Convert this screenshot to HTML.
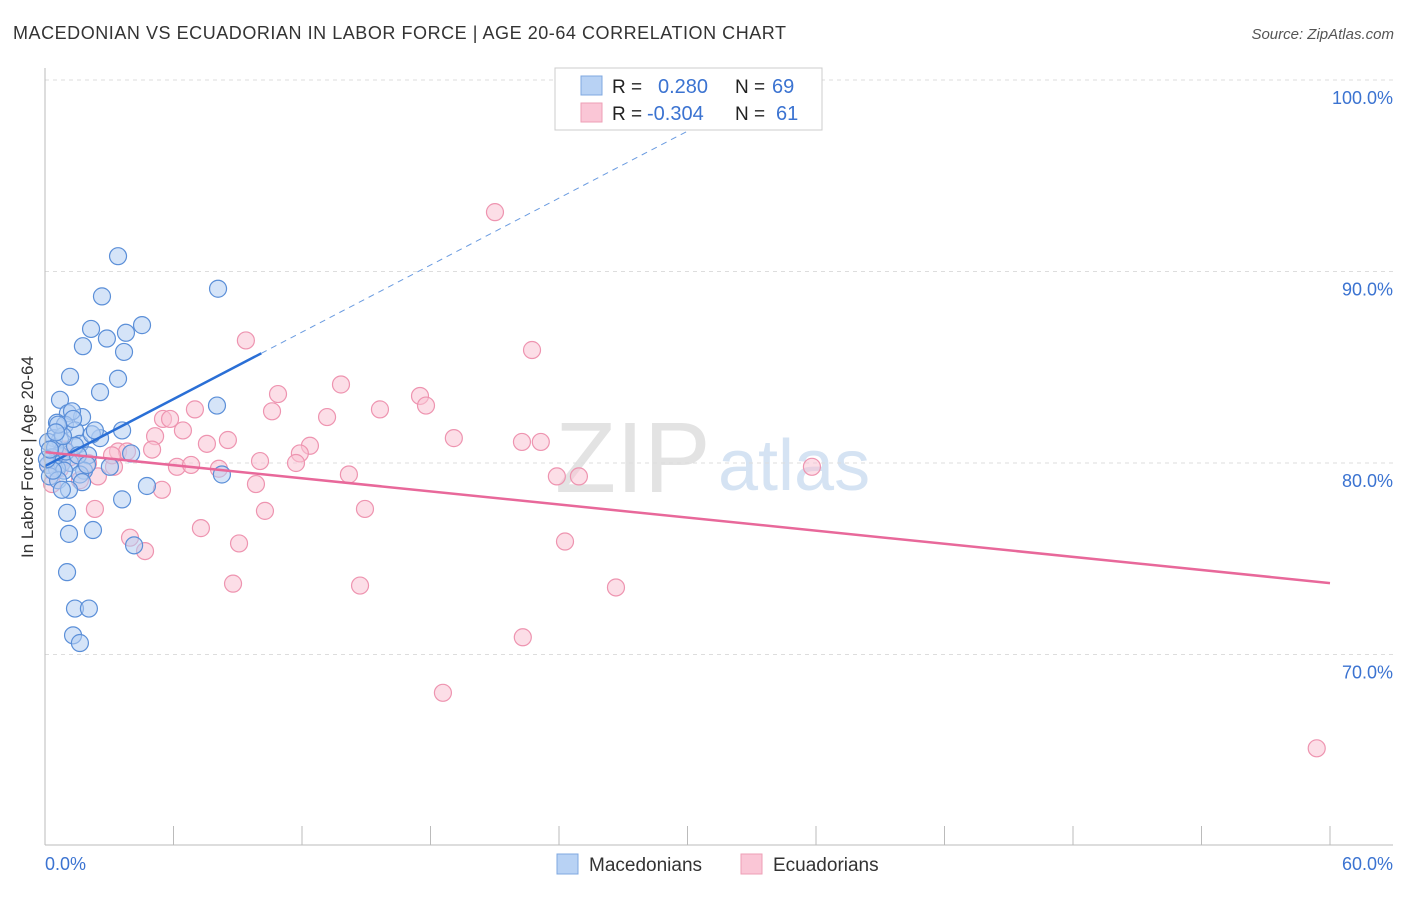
<!DOCTYPE html>
<html><head><meta charset="utf-8"><style>
body{margin:0;background:#fff;font-family:"Liberation Sans",sans-serif;}
svg text{font-family:"Liberation Sans",sans-serif;}
</style></head><body>
<svg id="chart" width="1406" height="892" viewBox="0 0 1406 892" xmlns="http://www.w3.org/2000/svg">
<text x="13" y="39" font-size="18" fill="#333" textLength="773">MACEDONIAN VS ECUADORIAN IN LABOR FORCE | AGE 20-64 CORRELATION CHART</text>
<text x="1394" y="39" font-size="15" fill="#555" text-anchor="end" font-style="italic">Source: ZipAtlas.com</text>
<text x="555" y="492" font-size="100" fill="#e3e3e3" font-family="Liberation Serif">ZIP</text>
<text x="718" y="490" font-size="72" fill="#d5e3f3">atlas</text>
<g id="grid"></g><g id="marks"></g>
<line x1="45" y1="68" x2="45" y2="845" stroke="#bbb"/>
<line x1="45" y1="845" x2="1393" y2="845" stroke="#bbb"/>
<text transform="translate(33,457) rotate(-90)" font-size="17" fill="#333" text-anchor="middle">In Labor Force | Age 20-64</text>
<text x="45" y="870" font-size="18" fill="#3b73d1">0.0%</text>
<text x="1393" y="870" font-size="18" fill="#3b73d1" text-anchor="end">60.0%</text>
<g>
<rect x="555" y="68" width="267" height="62" fill="#fff" stroke="#ccc"/>
<rect x="581" y="76" width="21" height="19" fill="#b8d2f4" stroke="#7fa8e0"/>
<rect x="581" y="103" width="21" height="19" fill="#fac6d6" stroke="#ee9fb6"/>
<text x="612" y="93" font-size="19" fill="#222">R =</text><text x="658" y="93" font-size="20" fill="#3b73d1">0.280</text>
<text x="735" y="93" font-size="19" fill="#222">N =</text><text x="772" y="93" font-size="20" fill="#3b73d1">69</text>
<text x="612" y="120" font-size="19" fill="#222">R =</text><text x="647" y="120" font-size="20" fill="#3b73d1">-0.304</text>
<text x="735" y="120" font-size="19" fill="#222">N =</text><text x="776" y="120" font-size="20" fill="#3b73d1">61</text>
</g>
<g>
<rect x="557" y="854" width="21" height="20" fill="#b8d2f4" stroke="#7fa8e0"/>
<text x="589" y="871" font-size="19" fill="#333">Macedonians</text>
<rect x="741" y="854" width="21" height="20" fill="#fac6d6" stroke="#ee9fb6"/>
<text x="773" y="871" font-size="19" fill="#333">Ecuadorians</text>
</g>
</svg>
<script>
const yTicks=[70,80,90,100];
const yTickLabels=["70.0%","80.0%","90.0%","100.0%"];
const xTicks=[6,12,18,24,30,36,42,48,54,60];
const macX=[3.41,8.08,2.66,2.15,4.53,3.78,2.89,1.77,3.69,1.17,3.41,2.57,0.70,8.03,1.07,1.73,1.26,0.56,0.93,1.40,2.57,3.60,0.42,0.70,1.63,0.14,4.02,0.70,0.33,2.01,0.14,0.79,1.17,0.56,1.82,1.63,0.89,0.23,8.26,3.03,0.61,1.73,1.12,4.76,3.60,1.03,2.24,1.12,4.16,1.03,1.40,2.05,1.31,1.63,0.47,0.98,1.40,2.19,0.37,0.09,0.84,1.31,2.33,0.61,1.54,1.96,0.23,0.79,0.51];
const macY=[90.8,89.1,88.7,87.0,87.2,86.8,86.5,86.1,85.8,84.5,84.4,83.7,83.3,83.0,82.6,82.4,82.7,82.1,82.0,81.7,81.3,81.7,81.3,81.2,81.0,81.1,80.5,80.4,80.3,80.4,79.9,80.0,80.0,79.7,79.6,79.4,79.6,79.3,79.4,79.8,79.1,79.0,78.6,78.8,78.1,77.4,76.5,76.3,75.7,74.3,72.4,72.4,71.0,70.6,80.8,80.6,80.9,81.5,79.6,80.2,81.4,82.3,81.7,82.0,80.4,79.9,80.7,78.6,81.6];
const ecuX=[21.01,9.38,22.74,10.88,13.82,17.51,17.79,15.64,10.60,7.00,13.17,5.51,5.84,6.44,5.14,8.54,7.56,19.09,22.27,23.15,12.37,11.90,3.41,3.83,5.00,10.04,11.72,6.16,6.82,8.12,3.22,35.81,14.19,23.90,24.93,2.47,9.85,5.46,14.94,10.27,2.33,7.28,3.97,9.06,24.28,4.67,8.78,14.71,26.66,22.31,18.58,59.38,0.33,0.70,1.17,1.63,0.93,0.14,3.13,2.01,0.61];
const ecuY=[93.1,86.4,85.9,83.6,84.1,83.5,83.0,82.8,82.7,82.8,82.4,82.3,82.3,81.7,81.4,81.2,81.0,81.3,81.1,81.1,80.9,80.5,80.6,80.6,80.7,80.1,80.0,79.8,79.9,79.7,79.8,79.8,79.4,79.3,79.3,79.3,78.9,78.6,77.6,77.5,77.6,76.6,76.1,75.8,75.9,75.4,73.7,73.6,73.5,70.9,68.0,65.1,78.9,79.7,80.3,79.1,80.7,79.9,80.4,80.0,80.4];
const X0=45,X1=1330,Y80=463,PPU=19.15;
const xs=v=>X0+v/60*(X1-X0), ys=v=>Y80-(v-80)*PPU;
const NS="http://www.w3.org/2000/svg";
const grid=document.getElementById('grid'), marks=document.getElementById('marks');
function mk(tag,attrs,parent){const e=document.createElementNS(NS,tag);for(const k in attrs)e.setAttribute(k,attrs[k]);parent.appendChild(e);return e;}
yTicks.forEach((t,i)=>{
 const l=mk('line',{x1:45,x2:1393,y1:ys(t),y2:ys(t),stroke:'#ddd','stroke-dasharray':'4,4'},grid);
 
 
 const tx=mk('text',{x:1393,y:ys(t)+24,'font-size':18,fill:'#3b73d1','text-anchor':'end'},grid);
 tx.textContent=yTickLabels[i];
 
 
});
xTicks.forEach(t=>{
 const l=mk('line',{x1:xs(t),x2:xs(t),y1:826,y2:845,stroke:'#bbb'},grid);
 
 
});
function dots(X,Y,fill,stroke,name){X.forEach((x,i)=>{
 const c=mk('circle',{cx:xs(x),cy:ys(Y[i]),r:8.5,fill:fill,'fill-opacity':0.55,stroke:stroke,'stroke-width':1.2},marks);
 
 
});}
dots(ecuX,ecuY,'#f9c3d3','#ee94b0','ecuadorian-point');
dots(macX,macY,'#b3cdf2','#5b8fd8','macedonian-point');
const blueA=79.84,blueB=0.583,pinkA=80.57,pinkB=-0.114;
let l=mk('line',{x1:xs(0),y1:ys(blueA),x2:xs(10.1),y2:ys(blueA+blueB*10.1),stroke:'#2a6fd6','stroke-width':2.5},marks);


l=mk('line',{x1:xs(10.1),y1:ys(blueA+blueB*10.1),x2:xs(33),y2:ys(blueA+blueB*33),stroke:'#6a9be0','stroke-width':1,'stroke-dasharray':'6,5'},marks);


l=mk('line',{x1:xs(0),y1:ys(pinkA),x2:xs(60),y2:ys(pinkA+pinkB*60),stroke:'#e8689a','stroke-width':2.5},marks);


</script>
</body></html>
